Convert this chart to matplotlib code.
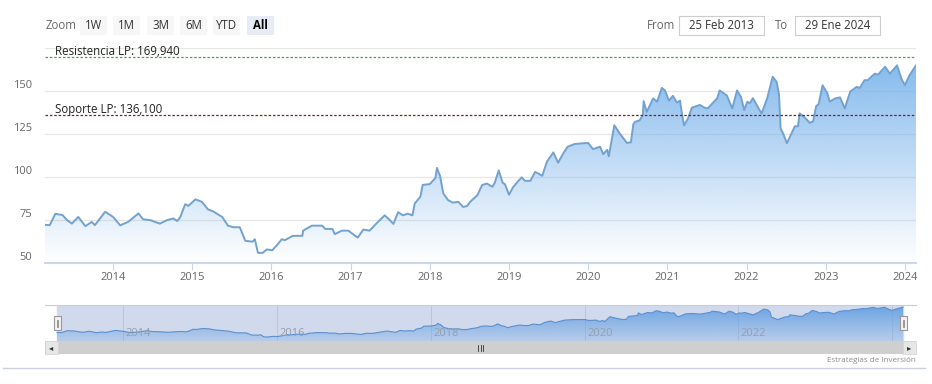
import numpy as np
import matplotlib.pyplot as plt
from matplotlib.patches import Polygon, Rectangle
from matplotlib.lines import Line2D
from matplotlib.colors import to_rgb

plt.rcParams['font.family'] = ['Open Sans', 'DejaVu Sans']

# Price series (decimal year, price)
years = [2013.14, 2013.20, 2013.27, 2013.36, 2013.42, 2013.48, 2013.56, 2013.65, 2013.73, 2013.77,
         2013.90, 2014.00, 2014.09, 2014.19, 2014.32, 2014.38, 2014.47, 2014.59, 2014.68, 2014.76,
         2014.81, 2014.85, 2014.91, 2014.95, 2015.04, 2015.12, 2015.20, 2015.26, 2015.38, 2015.45,
         2015.52, 2015.60, 2015.67, 2015.76, 2015.79, 2015.83, 2015.89, 2015.94, 2016.01, 2016.07,
         2016.13, 2016.17, 2016.27, 2016.39, 2016.40, 2016.51, 2016.64, 2016.68, 2016.77, 2016.80,
         2016.89, 2016.97, 2017.03, 2017.09, 2017.16, 2017.24, 2017.33, 2017.43, 2017.50, 2017.54,
         2017.60, 2017.66, 2017.72, 2017.78, 2017.81, 2017.88, 2017.91, 2018.00, 2018.07, 2018.09,
         2018.13, 2018.17, 2018.23, 2018.29, 2018.36, 2018.42, 2018.47, 2018.51, 2018.60, 2018.66,
         2018.72, 2018.79, 2018.82, 2018.87, 2018.92, 2018.95, 2019.00, 2019.05, 2019.11, 2019.16,
         2019.20, 2019.27, 2019.33, 2019.42, 2019.48, 2019.56, 2019.62, 2019.68, 2019.74, 2019.83,
         2019.93, 2020.00, 2020.06, 2020.15, 2020.19, 2020.24, 2020.26, 2020.33, 2020.40, 2020.49,
         2020.54, 2020.57, 2020.59, 2020.65, 2020.69, 2020.70, 2020.74, 2020.82, 2020.87, 2020.93,
         2020.97, 2021.02, 2021.07, 2021.12, 2021.16, 2021.18, 2021.21, 2021.26, 2021.31, 2021.41,
         2021.47, 2021.51, 2021.63, 2021.66, 2021.75, 2021.82, 2021.88, 2021.93, 2021.97, 2022.01,
         2022.04, 2022.08, 2022.14, 2022.19, 2022.26, 2022.33, 2022.38, 2022.41, 2022.43, 2022.46,
         2022.51, 2022.57, 2022.61, 2022.65, 2022.67, 2022.74, 2022.80, 2022.84, 2022.88, 2022.91,
         2022.96, 2023.02, 2023.05, 2023.12, 2023.18, 2023.24, 2023.31, 2023.39, 2023.43, 2023.49,
         2023.53, 2023.62, 2023.66, 2023.75, 2023.81, 2023.90, 2023.96, 2024.00, 2024.06, 2024.14]
prices = [72.2, 72.0, 78.6, 77.9, 74.9, 72.9, 76.8, 71.4, 73.9, 72.0,
          79.8, 76.8, 71.9, 73.9, 78.8, 75.4, 74.9, 72.9, 74.9, 75.9,
          74.4, 76.8, 84.2, 83.2, 87.0, 85.6, 81.1, 80.1, 76.7, 71.7,
          70.8, 70.8, 62.9, 62.4, 63.8, 55.9, 55.9, 57.9, 57.4, 60.4,
          63.8, 63.3, 65.8, 65.8, 68.8, 71.7, 71.7, 69.8, 69.8, 66.8,
          68.8, 68.8, 66.8, 64.8, 69.4, 68.8, 73.2, 77.7, 74.7, 72.7,
          79.6, 77.7, 78.7, 77.7, 84.6, 88.5, 95.4, 95.9, 99.4, 105.3,
          100.4, 90.5, 86.6, 85.1, 85.6, 82.6, 83.1, 85.6, 89.4, 95.3,
          96.2, 94.3, 96.7, 103.8, 96.7, 95.7, 89.7, 94.0, 97.3, 99.8,
          97.8, 97.8, 103.0, 100.7, 109.0, 114.3, 108.3, 113.3, 117.6, 119.2,
          119.6, 119.8, 116.2, 117.6, 113.3, 115.8, 112.0, 130.1, 125.2, 119.8,
          120.2, 130.7, 132.0, 133.0, 136.0, 144.1, 137.9, 145.7, 143.8, 151.8,
          150.3, 144.4, 147.2, 143.3, 144.4, 137.9, 130.0, 134.0, 140.3, 141.9,
          140.3, 139.9, 145.8, 150.3, 147.5, 139.9, 150.3, 146.5, 138.9, 143.8,
          142.9, 145.8, 140.9, 136.9, 145.7, 158.3, 155.3, 147.8, 128.2, 125.5,
          119.6, 125.5, 129.5, 129.5, 137.0, 134.4, 131.4, 132.4, 141.3, 142.3,
          153.3, 148.7, 143.8, 145.7, 146.3, 139.9, 149.7, 152.4, 151.8, 156.3,
          156.3, 160.1, 159.5, 164.1, 160.1, 164.9, 156.7, 153.5, 159.3, 164.9]

resistencia = 169.940
soporte = 136.100
year_ticks = list(range(2014, 2025))
nav_years = [2014, 2016, 2018, 2020, 2022]
buttons = ['1W', '1M', '3M', '6M', 'YTD', 'All']
date_from = '25 Feb 2013'
date_to = '29 Ene 2024'

W, H = 932, 384
def fx(x):
    return x / W
def fy(y):
    return 1 - y / H

def gradient_area(ax, x, y, color, y0, y1, a_top, a_bot, z=1):
    # area filled with a vertical colour fade, clipped to the series shape
    verts = np.column_stack([np.r_[x[0], x, x[-1]], np.r_[y0, y, y0]])
    poly = Polygon(verts, closed=True, facecolor='none', edgecolor='none')
    ax.add_patch(poly)
    rgba = np.zeros((256, 1, 4))
    rgba[:, 0, :3] = to_rgb(color)
    rgba[:, 0, 3] = np.linspace(a_top, a_bot, 256)
    im = ax.imshow(rgba, aspect='auto', origin='upper', zorder=z,
                   extent=[x[0], x[-1], y0, y1], interpolation='bilinear')
    im.set_clip_path(poly)

x = np.array(years)
y = np.array(prices)

fig = plt.figure(figsize=(9.32, 3.84), dpi=100)

# ---- main chart
ax = fig.add_axes([fx(45), fy(263), 871 / W, 215 / H])
gradient_area(ax, x, y, '#7cb5ec', 50, 175, 1.0, 0.0)
ax.plot(x, y, color='#73a2d0', lw=1.4, zorder=3)
ax.set_xlim(x[0], x[-1])
ax.set_ylim(50, 175)

for v in [75, 100, 125, 150, 175]:
    ax.axhline(v, color='#e6e6e6', lw=0.9, zorder=0)

ax.set_yticks([50, 75, 100, 125, 150])
ax.set_yticklabels(['50', '75', '100', '125', '150'])
for lab in ax.get_yticklabels():
    lab.set_verticalalignment('bottom')
ax.tick_params(axis='y', length=0, pad=9, labelsize=8, labelcolor='#666666')
ax.set_xticks(year_ticks)
ax.set_xticklabels([str(t) for t in year_ticks])
ax.tick_params(axis='x', length=5, width=0.8, color='#ccd6eb', pad=1.5,
               labelsize=8, labelcolor='#666666')
for s in ['top', 'right', 'left']:
    ax.spines[s].set_visible(False)
ax.spines['bottom'].set_color('#ccd6eb')
ax.spines['bottom'].set_linewidth(1.5)

ax.axhline(resistencia, color='#4f9f4f', lw=0.9, ls=(0, (2, 1.5)), zorder=4)
ax.axhline(soporte, color='#8b1a1a', lw=0.9, ls=(0, (2, 1.5)), zorder=4)
ax.annotate('Resistencia LP: 169,940', xy=(10 / 871, resistencia),
            xycoords=('axes fraction', 'data'), xytext=(0, 1.5),
            textcoords='offset points', va='baseline', fontsize=8.3, color='#222222')
ax.annotate('Soporte LP: 136,100', xy=(10 / 871, soporte),
            xycoords=('axes fraction', 'data'), xytext=(0, 1.5),
            textcoords='offset points', va='baseline', fontsize=8.3, color='#222222')

# ---- navigator
nav = fig.add_axes([fx(45), fy(341), 871 / W, 36 / H])
span = (x[-1] - x[0]) / (903 - 57)
nav.set_xlim(x[0] - 12 * span, x[-1] + 13 * span)
nav.set_ylim(41, 173)
nav.axvspan(x[0], x[-1], color='#d1daed', zorder=0)
for yr in nav_years + [2024]:
    nav.axvline(yr, color='#bcc6da', lw=0.7, zorder=0.5)
gradient_area(nav, x, y, '#6aa3e3', 41, 173, 1.0, 0.25, z=1)
nav.plot(x, y, color='#5b8fcf', lw=0.8, zorder=2)
nav.set_xlim(x[0] - 12 * span, x[-1] + 13 * span)
nav.set_ylim(41, 173)
for yr in nav_years:
    nav.text(yr + 2.5 * span, 70, str(yr), fontsize=8, color='#959eae',
             va='center', ha='left', zorder=3)
nav.axis('off')
fig.add_artist(Line2D([fx(45), fx(916)], [fy(305), fy(305)], color='#cccccc', lw=0.8))

# navigator handles
for hx in [54, 900]:
    fig.add_artist(Rectangle((fx(hx), fy(330)), 7 / W, 14 / H, facecolor='#f2f2f2',
                             edgecolor='#999999', lw=0.8))
    for dx in [2.7, 4.3]:
        fig.add_artist(Line2D([fx(hx + dx), fx(hx + dx)], [fy(320), fy(327)],
                              color='#888888', lw=0.6))

# scrollbar
fig.add_artist(Rectangle((fx(45), fy(354)), 871 / W, 13 / H, facecolor='#cfcfcf',
                         edgecolor='none'))
for bx in [45, 903]:
    fig.add_artist(Rectangle((fx(bx), fy(354)), 13 / W, 13 / H, facecolor='#e6e6e6',
                             edgecolor='#d6d6d6', lw=0.6))
fig.text(fx(51.5), fy(347.5), '◂', fontsize=6, color='#333333', ha='center', va='center',
         family='DejaVu Sans')
fig.text(fx(909.5), fy(347.5), '▸', fontsize=6, color='#333333', ha='center', va='center',
         family='DejaVu Sans')
for gx in [478, 480.5, 483]:
    fig.add_artist(Line2D([fx(gx), fx(gx)], [fy(344.5), fy(350.5)], color='#333333', lw=0.6))

# credit and bottom rule
fig.text(fx(916), fy(361), 'Estrategias de Inversión', ha='right', va='center',
         fontsize=5.8, color='#8c8c8c')
fig.add_artist(Line2D([fx(3), fx(925)], [fy(367.5), fy(367.5)], color='#cdd0de', lw=1))

# ---- range selector
fig.text(fx(46), fy(25.5), 'Zoom', ha='left', va='center', fontsize=8.3, color='#666666')
btn_x = [80, 113, 147, 180, 213, 247]
for bx, b in zip(btn_x, buttons):
    sel = b == 'All'
    fig.add_artist(Rectangle((fx(bx), fy(35)), 27 / W, 19 / H,
                             facecolor='#e6ebf5' if sel else '#f7f7f7', edgecolor='none'))
    fig.text(fx(bx + 13.5), fy(25.5), b, ha='center', va='center', fontsize=8.3,
             color='#000000' if sel else '#333333', fontweight='bold' if sel else 'normal')

fig.text(fx(647), fy(25.5), 'From', ha='left', va='center', fontsize=8.3, color='#666666')
fig.text(fx(775), fy(25.5), 'To', ha='left', va='center', fontsize=8.3, color='#666666')
for bx, t in [(679, date_from), (795, date_to)]:
    fig.add_artist(Rectangle((fx(bx), fy(35)), 85 / W, 19 / H, facecolor='white',
                             edgecolor='#cccccc', lw=0.8))
    fig.text(fx(bx + 42.5), fy(25.5), t, ha='center', va='center', fontsize=8.3, color='#333333')

fig.savefig('out.png', dpi=100)
